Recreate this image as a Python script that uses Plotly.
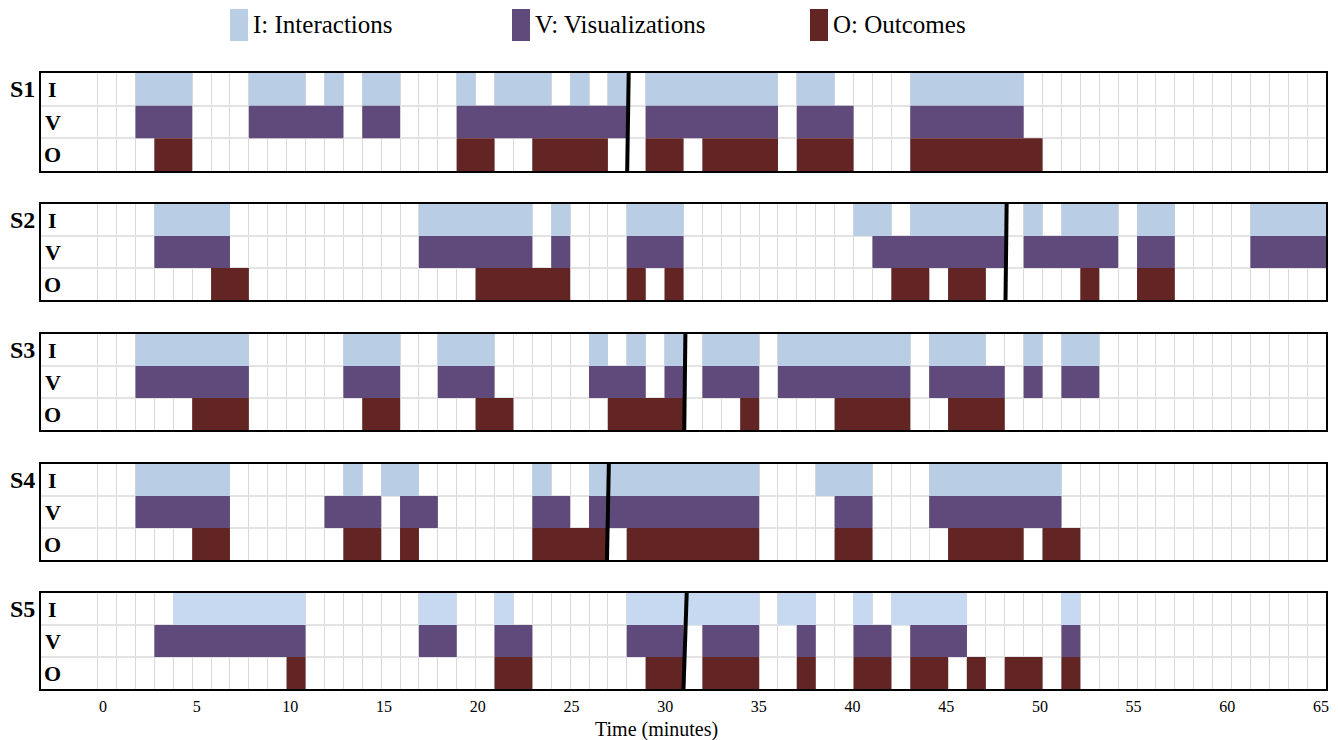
import plotly.graph_objects as go
from plotly.subplots import make_subplots

# ---------------- data (minutes, [start, end]) ----------------
sessions = ["S1", "S2", "S3", "S4", "S5"]
row_names = ["I", "V", "O"]
legend_labels = ["I: Interactions", "V: Visualizations", "O: Outcomes"]
x_title = "Time (minutes)"

S1_I = [[2, 5], [8, 11], [12, 13], [14, 16], [19, 20], [21, 24], [25, 26], [27, 28], [29, 36], [37, 39], [43, 49]]
S1_V = [[2, 5], [8, 13], [14, 16], [19, 28], [29, 36], [37, 40], [43, 49]]
S1_O = [[3, 5], [19, 21], [23, 27], [29, 31], [32, 36], [37, 40], [43, 50]]

S2_I = [[3, 7], [17, 23], [24, 25], [28, 31], [40, 42], [43, 48], [49, 50], [51, 54], [55, 57], [61, 65]]
S2_V = [[3, 7], [17, 23], [24, 25], [28, 31], [41, 48], [49, 54], [55, 57], [61, 65]]
S2_O = [[6, 8], [20, 25], [28, 29], [30, 31], [42, 44], [45, 47], [52, 53], [55, 57]]

S3_I = [[2, 8], [13, 16], [18, 21], [26, 27], [28, 29], [30, 31], [32, 35], [36, 43], [44, 47], [49, 50], [51, 53]]
S3_V = [[2, 8], [13, 16], [18, 21], [26, 29], [30, 31], [32, 35], [36, 43], [44, 48], [49, 50], [51, 53]]
S3_O = [[5, 8], [14, 16], [20, 22], [27, 31], [34, 35], [39, 43], [45, 48]]

S4_I = [[2, 7], [13, 14], [15, 17], [23, 24], [26, 35], [38, 41], [44, 51]]
S4_V = [[2, 7], [12, 15], [16, 18], [23, 25], [26, 35], [39, 41], [44, 51]]
S4_O = [[5, 7], [13, 15], [16, 17], [23, 27], [28, 35], [39, 41], [45, 49], [50, 52]]

S5_I = [[4, 11], [17, 19], [21, 22], [28, 35], [36, 38], [40, 41], [42, 46], [51, 52]]
S5_V = [[3, 11], [17, 19], [21, 23], [28, 31], [32, 35], [37, 38], [40, 42], [43, 46], [51, 52]]
S5_O = [[10, 11], [21, 23], [29, 31], [32, 35], [37, 38], [40, 42], [43, 45], [46, 47], [48, 50], [51, 52]]

# time markers (top, bottom) in minutes
marker_top = [28.1, 48.1, 31.1, 27.05, 31.17]
marker_bottom = [28.02, 48.04, 31.04, 26.95, 31.0]

grid_values = list(range(0, 66))
tick_values = list(range(0, 66, 5))
tick_labels = [str(v) for v in tick_values]

session_data = [
    [S1_I, S1_V, S1_O],
    [S2_I, S2_V, S2_O],
    [S3_I, S3_V, S3_O],
    [S4_I, S4_V, S4_O],
    [S5_I, S5_V, S5_O],
]

# ---------------- style ----------------
FONT = "Liberation Serif, Times New Roman, serif"
colors_I = ["#b9cde5", "#b9cde5", "#b9cde5", "#b9cde5", "#c6d9f1"]
color_V = "#604a7b"
color_O = "#632523"
legend_colors = ["#b9cde5", color_V, color_O]
row_y = [2.5, 1.5, 0.5]

# page body has an 8px margin, so the figure is sized/positioned accordingly
W, H = 1330, 732
L, R, T, B = 33, 12, 65, 51
panel_px = [(65, 163), (196, 292), (326, 422), (456, 552), (585, 681)]
plot_h = H - T - B
plot_w = W - L - R

fig = make_subplots(rows=5, cols=1, shared_xaxes=False, vertical_spacing=0.05)

for i, rows in enumerate(session_data):
    r = i + 1
    for j, segs in enumerate(rows):
        col = colors_I[i] if j == 0 else (color_V if j == 1 else color_O)
        fig.add_trace(
            go.Bar(
                orientation="h",
                y=[row_y[j]] * len(segs),
                x=[e - s for s, e in segs],
                base=[s for s, e in segs],
                width=1,
                marker=dict(color=col, line=dict(width=0)),
                showlegend=False,
                hoverinfo="skip",
            ),
            row=r, col=1,
        )
    fig.add_trace(
        go.Scatter(
            x=[marker_top[i], marker_bottom[i]], y=[3, 0], mode="lines",
            line=dict(color="black", width=4), showlegend=False, hoverinfo="skip",
        ),
        row=r, col=1,
    )

# invisible trace to carry the tick-label axis
fig.add_trace(go.Scatter(x=[None], y=[None], xaxis="x6", yaxis="y5", showlegend=False,
                         hoverinfo="skip"))

fig.update_layout(
    width=W, height=H,
    margin=dict(l=L, r=R, t=T, b=B, autoexpand=False),
    paper_bgcolor="white", plot_bgcolor="white",
    barmode="overlay",
    font=dict(family=FONT, color="black"),
    showlegend=False,
)

for i in range(5):
    top, bot = panel_px[i]
    d0 = (H - B - bot) / plot_h
    d1 = (H - B - top) / plot_h
    xa = "xaxis" if i == 0 else f"xaxis{i+1}"
    ya = "yaxis" if i == 0 else f"yaxis{i+1}"
    fig.layout[ya].update(
        domain=[d0, d1], range=[0, 3], tickvals=[1, 2], showticklabels=False,
        showgrid=True, gridcolor="#e3e3e3", gridwidth=2, zeroline=False,
        showline=True, mirror=True, linecolor="black", linewidth=2, ticks="",
        fixedrange=True, automargin=False,
    )
    fig.layout[xa].update(
        range=[-3, 65], tickvals=grid_values,
        showgrid=True, gridcolor="#d9d9d9", gridwidth=1, zeroline=False,
        showline=True, mirror=True, linecolor="black", linewidth=2,
        showticklabels=False, ticks="", fixedrange=True, automargin=False,
    )
    # panel label
    fig.add_annotation(
        xref="paper", yref=("y" if i == 0 else f"y{i+1}"),
        x=0, y=2.5, xanchor="right", yanchor="middle", xshift=-4,
        text=f"<b>{sessions[i]}</b>", showarrow=False,
        font=dict(family=FONT, size=24, color="black"),
    )
    for j, name in enumerate(row_names):
        fig.add_annotation(
            xref=("x" if i == 0 else f"x{i+1}"), yref=("y" if i == 0 else f"y{i+1}"),
            x=-2.37, y=row_y[j], xanchor="center", yanchor="middle",
            text=f"<b>{name}</b>", showarrow=False,
            font=dict(family=FONT, size=22, color="black"),
        )

# tick-label axis (labels drawn at the positions of the reference)
fig.layout.xaxis6 = dict(
    overlaying="x5", anchor="y5", side="bottom",
    range=[-3.308, 65.267], tickvals=tick_values, ticktext=tick_labels,
    showgrid=False, zeroline=False, showline=False,
    ticks="outside", ticklen=3, tickcolor="rgba(0,0,0,0)",
    tickfont=dict(family=FONT, size=16, color="black"),
    fixedrange=True, automargin=False,
)

# x-axis title (sits left of centre in the reference)
fig.add_annotation(
    xref="paper", yref="paper", x=(648 - L) / plot_w, y=(H - B - 721) / plot_h,
    xanchor="center", yanchor="middle", text=x_title, showarrow=False,
    font=dict(family=FONT, size=20, color="black"),
)

# legend (drawn manually as tall swatches + text)
leg_px = [222, 504, 802]
for k in range(3):
    x0 = (leg_px[k] - L) / plot_w
    x1 = (leg_px[k] + 18 - L) / plot_w
    y0 = (H - B - 33) / plot_h
    y1 = (H - B - 1) / plot_h
    fig.add_shape(type="rect", xref="paper", yref="paper", x0=x0, x1=x1, y0=y0, y1=y1,
                  fillcolor=legend_colors[k], line=dict(width=0))
    fig.add_annotation(xref="paper", yref="paper", x=(leg_px[k] + 21 - L) / plot_w,
                       y=(H - B - 17) / plot_h, xanchor="left", yanchor="middle",
                       text=legend_labels[k], showarrow=False,
                       font=dict(family=FONT, size=25, color="black"))

fig.write_html("out.html")
